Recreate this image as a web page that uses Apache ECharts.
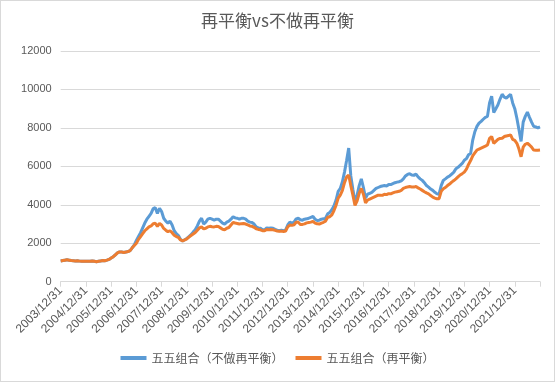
<!DOCTYPE html>
<html>
<head>
<meta charset="utf-8">
<script src="https://cdn.jsdelivr.net/npm/echarts@6/dist/echarts.min.js"></script>
<style>
html,body{margin:0;padding:0;background:#fff;}
#c{width:555px;height:382px;box-sizing:border-box;border:1px solid #d9d9d9;}
</style>
</head>
<body>
<div id="c"></div>
<script>
// Month-end categories from 2003/12 to 2022/12
var startYear = 2003, startMonth = 12, monthCount = 229;
var tickLabels = ["2003/12/31","2004/12/31","2005/12/31","2006/12/31","2007/12/31","2008/12/31","2009/12/31","2010/12/31","2011/12/31","2012/12/31","2013/12/31","2014/12/31","2015/12/31","2016/12/31","2017/12/31","2018/12/31","2019/12/31","2020/12/31","2021/12/31"];
var seriesNames = ["五五组合（不做再平衡）","五五组合（再平衡）"];

var noRebalance = [
1080,1100,1120,1140,1120,1100,1090,1080,1090,1070,1060,1070,1060,
1070,1060,1080,1060,1040,1060,1080,1100,1090,1120,1160,1230,
1300,1400,1500,1550,1540,1520,1540,1570,1620,1760,1920,2150,
2350,2550,2800,3050,3250,3400,3550,3800,3850,3550,3820,3650,
3300,3150,3050,3150,2950,2650,2500,2400,2200,2120,2180,2250,
2350,2450,2580,2700,2900,3150,3300,3000,3100,3250,3300,3250,
3200,3250,3250,3150,3050,3000,3100,3150,3250,3380,3320,3300,
3250,3300,3300,3250,3150,3100,3080,3000,2850,2800,2780,2700,
2700,2800,2780,2800,2780,2720,2680,2650,2680,2650,2700,2950,
3100,3050,3100,3270,3300,3220,3200,3250,3270,3300,3350,3390,
3250,3180,3200,3250,3270,3300,3530,3600,3750,3950,4250,4700,
4850,5200,5700,6300,6950,5500,4800,4150,4500,5000,5350,4900,
4350,4550,4600,4650,4750,4850,4900,4950,4980,5000,4980,5050,
5050,5100,5150,5180,5200,5250,5350,5500,5580,5620,5550,5530,
5600,5450,5350,5270,5150,5000,4920,4820,4750,4650,4570,4550,
5000,5270,5350,5440,5500,5600,5700,5880,5950,6050,6150,6320,
6400,6600,6670,7370,7800,8080,8250,8340,8450,8550,8600,9300,
9650,8800,9000,9200,9500,9750,9600,9550,9650,9750,9300,9000,
8500,7900,7300,8300,8600,8820,8550,8300,8080,8050,8000,8050
];
var rebalance = [
1080,1100,1120,1140,1120,1100,1090,1080,1090,1070,1060,1070,1060,
1070,1060,1080,1060,1040,1060,1080,1100,1090,1120,1160,1230,
1300,1400,1500,1550,1540,1520,1540,1570,1620,1760,1880,2000,
2200,2350,2500,2650,2750,2850,2900,3020,3040,2880,3030,2950,
2770,2680,2600,2650,2550,2420,2350,2300,2170,2120,2170,2230,
2320,2400,2480,2560,2680,2800,2850,2750,2780,2850,2880,2860,
2850,2880,2870,2800,2730,2700,2780,2820,2950,3080,3050,3030,
3000,3020,3030,3000,2950,2900,2880,2830,2750,2720,2700,2650,
2650,2720,2700,2720,2700,2670,2640,2620,2630,2610,2640,2850,
2950,2930,2960,3090,3100,2970,2980,3010,3060,3080,3100,3140,
3050,3010,3000,3050,3090,3150,3350,3380,3480,3700,3980,4350,
4500,4750,5150,5450,5550,5000,4500,3970,4200,4600,4850,4550,
4100,4250,4300,4350,4400,4450,4500,4500,4490,4550,4530,4580,
4570,4620,4660,4680,4700,4750,4850,4900,4930,4950,4930,4920,
4950,4880,4820,4750,4680,4620,4570,4480,4400,4350,4310,4320,
4700,4830,4900,5000,5080,5180,5260,5350,5450,5550,5620,5700,
5850,6100,6300,6550,6700,6850,6900,6950,7000,7050,7110,7450,
7550,7200,7300,7400,7450,7460,7550,7580,7600,7640,7400,7350,
7200,6900,6500,7000,7150,7200,7110,7000,6850,6840,6840,6850
];

var categories = [];
for (var i = 0; i < monthCount; i++) {
  var mm = startMonth + i;
  var y = startYear + Math.floor((mm - 1) / 12);
  var mo = ((mm - 1) % 12) + 1;
  var d = new Date(y, mo, 0).getDate();
  categories.push(y + "/" + mo + "/" + d);
}

var chart = echarts.init(document.getElementById('c'), null, {renderer: 'canvas'});
var txt = '#595959';
chart.setOption({
  animation: false,
  backgroundColor: '#fff',
  title: {
    text: '再平衡vs不做再平衡',
    left: 'center',
    top: 6,
    textStyle: {fontFamily: 'Noto Sans CJK SC', fontSize: 17, fontWeight: 'normal', color: txt}
  },
  legend: {
    bottom: 12,
    left: 'center',
    itemWidth: 26,
    itemHeight: 4,
    itemGap: 12,
    icon: 'rect',
    textStyle: {fontFamily: 'Noto Sans CJK SC', fontSize: 12, color: txt},
    data: seriesNames
  },
  grid: {left: 59.7, right: 14, top: 50, bottom: 99.3, containLabel: false},
  xAxis: {
    type: 'category',
    data: categories,
    boundaryGap: false,
    axisLine: {lineStyle: {color: '#d9d9d9', width: 1}},
    axisTick: {show: true, interval: 11, length: 5, lineStyle: {color: '#d9d9d9'}},
    axisLabel: {
      interval: function (idx) { return idx % 12 === 0 && idx / 12 < tickLabels.length; },
      formatter: function (v, idx) { return tickLabels[Math.round(idx / 12)] || ''; },
      rotate: 45,
      margin: 7,
      fontFamily: 'Liberation Sans',
      fontSize: 12,
      color: txt
    },
    splitLine: {show: false}
  },
  yAxis: {
    type: 'value',
    min: 0,
    max: 12000,
    interval: 2000,
    axisLine: {show: false},
    axisTick: {show: false},
    axisLabel: {
      fontFamily: 'Liberation Sans', fontSize: 11, color: txt, margin: 9,
      formatter: function (v) { return String(v); }
    },
    splitLine: {lineStyle: {color: '#d9d9d9', width: 1}}
  },
  series: [
    {
      name: seriesNames[0],
      type: 'line',
      data: noRebalance,
      showSymbol: false,
      symbol: 'none',
      lineStyle: {width: 3, color: '#5B9BD5'},
      itemStyle: {color: '#5B9BD5'}
    },
    {
      name: seriesNames[1],
      type: 'line',
      data: rebalance,
      showSymbol: false,
      symbol: 'none',
      lineStyle: {width: 3, color: '#ED7D31'},
      itemStyle: {color: '#ED7D31'}
    }
  ]
});
</script>
</body>
</html>
